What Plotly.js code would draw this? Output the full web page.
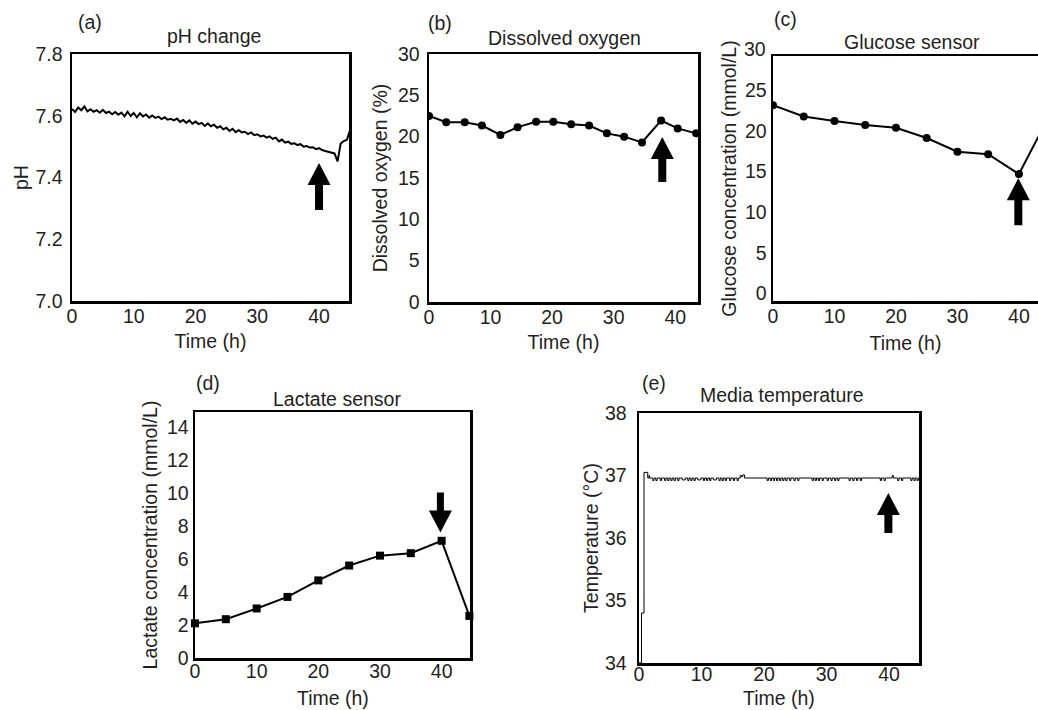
<!DOCTYPE html>
<html><head><meta charset="utf-8">
<script src="https://cdn.plot.ly/plotly-3.0.1.min.js"></script>
<style>html,body{margin:0;padding:0;background:#fff}#chart{width:1038px;height:710px}</style>
</head><body><div id="chart"></div>
<script>
// ---------- DATA ----------
// (a) pH, sampled every 0.5 h from 0 h
const phStart = 0;
const phStep = 0.5;
const phValues = [
  7.622,7.612,7.627,7.618,7.630,7.614,7.621,7.613,7.618,7.610,
  7.619,7.609,7.613,7.605,7.612,7.603,7.610,7.598,7.613,7.599,
  7.609,7.595,7.608,7.598,7.604,7.594,7.601,7.593,7.597,7.589,
  7.595,7.587,7.590,7.585,7.591,7.580,7.586,7.577,7.585,7.574,
  7.581,7.573,7.577,7.567,7.575,7.566,7.571,7.561,7.566,7.556,
  7.561,7.551,7.558,7.547,7.553,7.546,7.548,7.541,7.546,7.537,
  7.540,7.533,7.536,7.529,7.533,7.525,7.529,7.517,7.523,7.513,
  7.516,7.509,7.511,7.505,7.508,7.500,7.502,7.497,7.498,7.492,
  7.495,7.489,7.486,7.484,7.482,7.478,7.452,7.510,7.518,7.522,
  7.552
];
// (b) dissolved oxygen
const doTime   = [0, 2.8, 5.8, 8.6, 11.6, 14.4, 17.4, 20.2, 23.1, 26.0, 28.9, 31.7, 34.6, 37.7, 40.4, 43.4];
const doValues = [22.5, 21.75, 21.75, 21.35, 20.2, 21.15, 21.8, 21.8, 21.5, 21.35, 20.4, 20.0, 19.3, 21.95, 21.0, 20.4];
// (c) glucose
const glucoseTime   = [0, 5, 10, 15, 20, 25, 30, 35, 40, 45];
const glucoseValues = [23.2, 21.8, 21.25, 20.75, 20.4, 19.15, 17.45, 17.15, 14.7, 22.0];
// (d) lactate
const lactateTime   = [0, 5, 10, 15, 20, 25, 30, 35, 40, 44.5];
const lactateValues = [2.1, 2.35, 3.0, 3.7, 4.7, 5.6, 6.2, 6.35, 7.1, 2.55];
// (e) media temperature (step trace)
const tempTime = [
  0,0.4,0.8,1.4,1.6,1.7,2.2,2.4,2.7,2.9,3.4,3.6,4.1,4.3,4.6,4.8,5.1,5.3,5.6,5.8,
  6.2,6.4,6.9,7.4,7.8,8.0,8.3,8.5,8.8,9.0,9.4,9.9,10.3,10.5,10.8,11.0,11.3,11.5,11.9,12.4,
  12.8,13.0,13.3,13.5,13.8,14.0,14.5,14.7,15.1,15.3,15.7,15.9,16.2,16.4,16.6,16.9,20.5,20.7,21.0,21.2,
  21.5,21.7,22.0,22.2,22.5,22.7,23.0,23.2,23.5,23.7,24.1,24.3,24.8,25.0,25.4,25.6,27.7,27.9,28.2,28.4,
  28.7,28.9,29.3,29.5,30.1,30.3,30.7,30.9,31.3,31.5,31.8,32.0,33.6,33.8,34.2,34.4,34.8,35.0,35.4,35.6,
  38.6,38.8,39.2,39.4,40.5,40.7,41.4,41.6,42.0,42.2,43.5,43.7,44.0,44.2,44.5,44.7,45
];
const tempValues = [
  34.0,34.8,37.05,36.96,37.0,36.96,36.92,36.96,36.92,36.96,36.92,36.96,36.92,36.96,36.92,36.96,36.92,36.96,36.92,36.96,
  36.92,36.96,36.93,36.96,36.92,36.96,36.92,36.96,36.92,36.96,36.93,36.96,36.92,36.96,36.92,36.96,36.92,36.96,36.93,36.96,
  36.92,36.96,36.92,36.96,36.92,36.96,36.92,36.96,36.92,36.96,36.92,36.96,37.0,36.98,37.01,36.96,36.92,36.96,36.92,36.96,
  36.92,36.96,36.92,36.96,36.92,36.96,36.92,36.96,36.92,36.96,36.92,36.96,36.92,36.96,36.92,36.96,36.92,36.96,36.92,36.96,
  36.92,36.96,36.92,36.96,36.92,36.96,36.92,36.96,36.92,36.96,36.92,36.96,36.92,36.96,36.92,36.96,36.92,36.96,36.92,36.96,
  36.92,36.96,36.92,36.96,37.0,36.96,36.92,36.96,36.92,36.96,36.92,36.96,36.92,36.96,36.92,36.96,36.96
];
const xTicks = [0, 10, 20, 30, 40];
const panelLetters = ['(a)', '(b)', '(c)', '(d)', '(e)'];
const panelTitles = ['pH change', 'Dissolved oxygen', 'Glucose sensor', 'Lactate sensor', 'Media temperature'];
const yTitles = ['pH', 'Dissolved oxygen (%)', 'Glucose concentration (mmol/L)', 'Lactate concentration (mmol/L)', 'Temperature (°C)'];
const xTitle = 'Time (h)';

// ---------- LAYOUT HELPERS ----------
const W = 1038, H = 710;
const px = x => x / W;
const py = y => 1 - y / H;
const FONT = '"Liberation Sans", Arial, sans-serif';
const TXT = '#231f20';
const FS = 19.5;

function xAxis(l, r, range, anchor, mirror, title, standoff, lstand) {
  return {
    domain: [px(l), px(r)], range: range, anchor: anchor,
    showline: true, linewidth: 2.5, linecolor: '#000', mirror: mirror,
    showgrid: false, zeroline: false, ticks: '', tickvals: xTicks,
    ticklabelstandoff: lstand,
    tickfont: {family: FONT, size: FS, color: TXT},
    title: {text: title, font: {family: FONT, size: FS, color: TXT}, standoff: standoff},
    fixedrange: true
  };
}
function yAxis(t, b, range, anchor, dtick, fmt, mirror, title, standoff, lstand) {
  return {
    domain: [py(b), py(t)], range: range, anchor: anchor,
    showline: true, linewidth: 2.5, linecolor: '#000', mirror: mirror,
    showgrid: false, zeroline: false, ticks: '', dtick: dtick, tick0: 0, tickformat: fmt,
    ticklabelstandoff: lstand,
    tickfont: {family: FONT, size: FS, color: TXT},
    title: {text: title, font: {family: FONT, size: FS, color: TXT}, standoff: standoff},
    fixedrange: true
  };
}

const lineBlack = {color: '#000', width: 2};
const traces = [
  {type: 'scatter', mode: 'lines', x0: phStart, dx: phStep, y: phValues,
   xaxis: 'x', yaxis: 'y', line: {color: '#000', width: 2}, name: 'pH'},
  {type: 'scatter', mode: 'lines+markers', x: doTime, y: doValues,
   xaxis: 'x2', yaxis: 'y2', line: lineBlack, marker: {symbol: 'circle', size: 8, color: '#000'}, name: 'DO'},
  {type: 'scatter', mode: 'lines+markers', x: glucoseTime, y: glucoseValues,
   xaxis: 'x3', yaxis: 'y3', line: lineBlack, marker: {symbol: 'circle', size: 8, color: '#000'}, name: 'Glucose'},
  {type: 'scatter', mode: 'lines+markers', x: lactateTime, y: lactateValues, cliponaxis: false,
   xaxis: 'x4', yaxis: 'y4', line: lineBlack, marker: {symbol: 'square', size: 8, color: '#000'}, name: 'Lactate'},
  {type: 'scatter', mode: 'lines', x: tempTime, y: tempValues,
   xaxis: 'x5', yaxis: 'y5', line: {color: '#000', width: 1, shape: 'hv'}, name: 'Temperature'}
];

// arrows (pixel-sized paths anchored at the data point they mark)
function upArrow(xr, yr, xa, ya, shaft) {
  return {type: 'path', xref: xr, yref: yr, xsizemode: 'pixel', ysizemode: 'pixel',
    xanchor: xa, yanchor: ya, layer: 'above', fillcolor: '#000', line: {width: 0},
    path: `M0,0 L11.5,-22 L4,-22 L4,${-22 - shaft} L-4,${-22 - shaft} L-4,-22 L-11.5,-22 Z`};
}
function downArrow(xr, yr, xa, ya, shaft) {
  return {type: 'path', xref: xr, yref: yr, xsizemode: 'pixel', ysizemode: 'pixel',
    xanchor: xa, yanchor: ya, layer: 'above', fillcolor: '#000', line: {width: 0},
    path: `M0,0 L11.5,22 L3.5,22 L3.5,${22 + shaft} L-3.5,${22 + shaft} L-3.5,22 L-11.5,22 Z`};
}

const letterPos = [[90, 22], [440, 23], [785, 19], [208, 383], [654, 383]];
const titlePos  = [[214, 36], [564, 38], [912, 42], [337, 399], [782, 395]];
const annotations = [];
const txt = (text, x, y, xanchor) => ({text: text, xref: 'paper', yref: 'paper',
  x: px(x), y: py(y), showarrow: false, xanchor: xanchor || 'center', yanchor: 'middle',
  font: {family: FONT, size: FS, color: TXT}});
panelLetters.forEach((t, i) => annotations.push(txt(t, letterPos[i][0], letterPos[i][1])));
panelTitles.forEach((t, i) => annotations.push(txt(t, titlePos[i][0], titlePos[i][1])));
// top tick label of (c) sits just above its frame
annotations.push(txt('30', 768, 49, 'right'));
// x titles of the lower row sit close to the bottom edge of the figure
annotations.push(txt(xTitle, 333, 698));
annotations.push(txt(xTitle, 779, 698));

const layout = {
  width: W, height: H, margin: {l: 0, r: 0, t: 0, b: 0},
  paper_bgcolor: '#fff', plot_bgcolor: '#fff', showlegend: false,
  font: {family: FONT, color: TXT},
  xaxis:  xAxis(72, 349, [0, 44.85], 'y', true, xTitle, 9, -4),
  yaxis:  yAxis(54, 301, [7.0, 7.8], 'x', 0.2, '.1f', true, yTitles[0], 2, 3),
  xaxis2: xAxis(429, 698, [0, 43.7], 'y2', true, xTitle, 9, -4),
  yaxis2: yAxis(54, 302, [0, 30], 'x2', 5, '', true, yTitles[1], 5, 3),
  xaxis3: xAxis(773, 1038, [0, 43.1], 'y3', true, xTitle, 11, -4),
  yaxis3: yAxis(56, 301, [-0.95, 29.26], 'x3', 5, '', false, yTitles[2], 3, 0),
  xaxis4: xAxis(195, 470, [0, 44.6], 'y4', true, '', 0, -6),
  yaxis4: yAxis(412, 658, [0, 14.9], 'x4', 2, '', true, yTitles[3], 4, 0),
  xaxis5: xAxis(639, 919, [0, 44.8], 'y5', true, '', 0, -8),
  yaxis5: yAxis(413, 663, [34, 38], 'x5', 1, '', true, yTitles[4], 1, 6),
  shapes: [
    upArrow('x', 'y', 40, 7.447, 25),
    upArrow('x2', 'y2', 37.9, 19.95, 23),
    upArrow('x3', 'y3', 39.9, 14.2, 25),
    downArrow('x4', 'y4', 39.8, 7.6, 18),
    upArrow('x5', 'y5', 39.9, 36.72, 18)
  ],
  annotations: annotations
};

Plotly.newPlot('chart', traces, layout, {displayModeBar: false, staticPlot: true});
</script>
</body></html>
